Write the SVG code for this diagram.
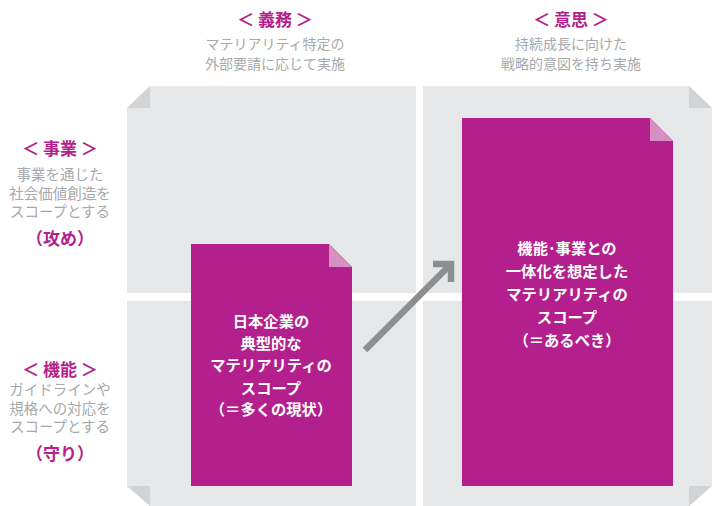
<svg xmlns="http://www.w3.org/2000/svg" width="720" height="506" viewBox="0 0 720 506">
<style>
text{font-family:"Noto Sans CJK JP","Noto Sans",sans-serif;text-anchor:middle;dominant-baseline:central}
.h{fill:#b31f8c;font-size:17px;font-weight:700}
.g{fill:#a7a9ac;font-size:14px}
.gl{fill:#a7a9ac;font-size:14.5px}
.w{fill:#fff;font-size:15.3px;font-weight:700}
.q{fill:#e6e7e8}
.qf{fill:#d1d3d4}
.m{fill:#b31f8c}
.mf{fill:#d68fc0}
</style>
<rect width="720" height="506" fill="#fff"/>
<g id="quadrant-tl"><polygon class="q" points="150,86 416,86 416,293 127,293 127,108"/><polygon class="qf" points="150,86 150,108 127,108"/></g>
<g id="quadrant-tr"><polygon class="q" points="423,86 689,86 712,108 712,293 423,293"/><polygon class="qf" points="689,86 712,108 689,108"/></g>
<g id="quadrant-bl"><polygon class="q" points="127,301 416,301 416,506 150,506 127,486"/><polygon class="qf" points="127,486 150,486 150,506"/></g>
<g id="quadrant-br"><polygon class="q" points="423,301 712,301 712,486 689,506 423,506"/><polygon class="qf" points="712,486 689,486 689,506"/></g>
<g id="header-top"><text class="h" x="275" y="18">＜ 義務 ＞</text><text class="g" x="275" y="43">マテリアリティ特定の</text><text class="g" x="275" y="63">外部要請に応じて実施</text></g>
<g id="header-right"><text class="h" x="571" y="18">＜ 意思 ＞</text><text class="g" x="571" y="43">持続成長に向けた</text><text class="g" x="571" y="63">戦略的意図を持ち実施</text></g>
<g id="label-business"><text class="h" x="60" y="147">＜ 事業 ＞</text><text class="gl" x="60" y="173">事業を通じた</text><text class="gl" x="60" y="192">社会価値創造を</text><text class="gl" x="60" y="210">スコープとする</text><text class="h" x="60" y="237" font-size="18">（攻め）</text></g>
<g id="label-function"><text class="h" x="60" y="368">＜ 機能 ＞</text><text class="gl" x="60" y="388">ガイドラインや</text><text class="gl" x="60" y="407">規格への対応を</text><text class="gl" x="60" y="425">スコープとする</text><text class="h" x="60" y="452" font-size="18">（守り）</text></g>
<g id="box-current"><polygon class="m" points="191,244 329,244 352,267 352,486 191,486"/><polygon class="mf" points="329,244 352,267 329,267"/>
<text class="w" x="271" y="320">日本企業の</text><text class="w" x="271" y="342">典型的な</text><text class="w" x="271" y="364">マテリアリティの</text><text class="w" x="271" y="387">スコープ</text><text class="w" x="271" y="408">（＝多くの現状）</text></g>
<g id="box-ideal"><polygon class="m" points="462,118 650,118 673,141 673,486 462,486"/><polygon class="mf" points="650,118 673,141 650,141"/>
<text class="w" x="567" y="247">機能･事業との</text><text class="w" x="567" y="270">一体化を想定した</text><text class="w" x="567" y="293">マテリアリティの</text><text class="w" x="567" y="316">スコープ</text><text class="w" x="567" y="339">（＝あるべき）</text></g>
<g id="connectors" fill="none" stroke="#8d8e90" stroke-width="6.5"><line x1="365" y1="350" x2="451" y2="264"/><polyline points="433,264 451,264 451,282"/></g>
</svg>
